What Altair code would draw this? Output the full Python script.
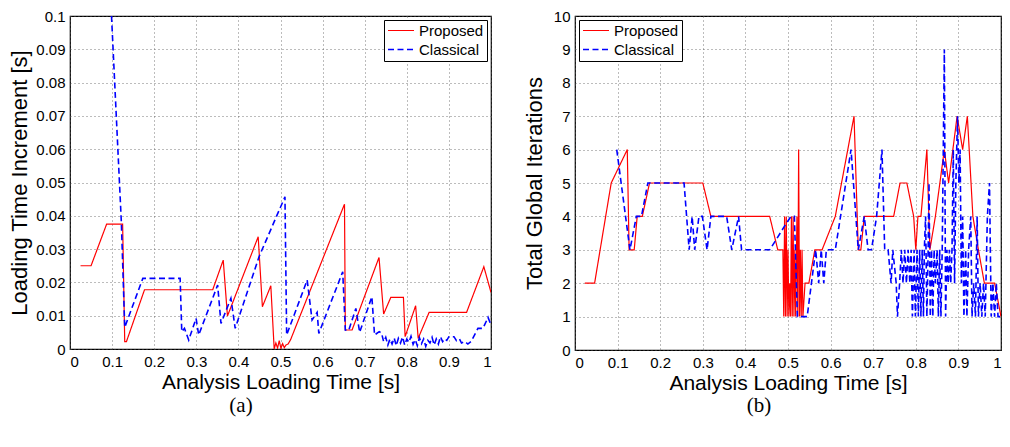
import altair as alt
import pandas as pd

series = ["Proposed", "Classical"]
captions = ["(a)", "(b)"]
x_ticks = [0, 0.1, 0.2, 0.3, 0.4, 0.5, 0.6, 0.7, 0.8, 0.9, 1.0]
a_y_ticks = [0, 0.01, 0.02, 0.03, 0.04, 0.05, 0.06, 0.07, 0.08, 0.09, 0.1]
b_y_ticks = [0, 1, 2, 3, 4, 5, 6, 7, 8, 9, 10]

# ---- panel (a): loading time increment ----
a_prop_x = [0.025, 0.05, 0.087, 0.125, 0.13, 0.134, 0.177, 0.339, 0.364, 0.374, 0.447, 0.457,
            0.477, 0.485, 0.489, 0.493, 0.497, 0.501, 0.505, 0.509, 0.513, 0.518, 0.524, 0.652,
            0.654, 0.670, 0.734, 0.745, 0.762, 0.792, 0.796, 0.821, 0.827, 0.853, 0.942, 0.983, 1.0]
a_prop_y = [0.025, 0.025, 0.0375, 0.0375, 0.0022, 0.0022, 0.0178, 0.0178, 0.0267, 0.0099, 0.0337, 0.0127,
            0.019, 0.0, 0.0018, 0.0003, 0.0025, 0.0002, 0.0016, 0.0004, 0.0012, 0.0015, 0.0028, 0.0435,
            0.0057, 0.0057, 0.0275, 0.0105, 0.0155, 0.0155, 0.0037, 0.013, 0.0032, 0.011, 0.011, 0.0247, 0.017]

a_clas_x = [0.0986, 0.122, 0.13, 0.173, 0.2616, 0.2655, 0.2719, 0.282, 0.2995, 0.3057, 0.3507, 0.3586,
            0.3822, 0.3924, 0.449, 0.5106, 0.5146, 0.5634, 0.575, 0.587, 0.591, 0.6478, 0.654, 0.662,
            0.679, 0.688, 0.717, 0.7234, 0.7345,
            0.740, 0.745, 0.750, 0.755, 0.760, 0.765, 0.770, 0.775, 0.780, 0.785, 0.790, 0.795,
            0.800, 0.805, 0.810, 0.815, 0.820, 0.825, 0.830, 0.835, 0.840, 0.845, 0.850, 0.855,
            0.860, 0.865, 0.870, 0.875, 0.880, 0.885, 0.890, 0.895,
            0.900, 0.912, 0.918, 0.925, 0.930, 0.938, 0.945, 0.953, 0.969, 0.981, 0.993, 1.0]
a_clas_y = [0.1, 0.038, 0.0065, 0.0212, 0.0212, 0.0052, 0.0062, 0.0027, 0.0092, 0.0042, 0.0192, 0.0077,
            0.0152, 0.0062, 0.0277, 0.0457, 0.0042, 0.0207, 0.0087, 0.011, 0.0047, 0.0232, 0.0057, 0.0056,
            0.0122, 0.005, 0.0157, 0.0042, 0.0052,
            0.0048, 0.0022, 0.0035, 0.0012, 0.0030, 0.0015, 0.0033, 0.0010, 0.0032, 0.0018, 0.0036, 0.0012,
            0.0030, 0.0020, 0.0038, 0.0014, 0.0028, 0.0010, 0.0034, 0.0016, 0.0030, 0.0008, 0.0026, 0.0018,
            0.0035, 0.0012, 0.0030, 0.0015, 0.0037, 0.0022, 0.0031, 0.0026,
            0.0037, 0.0037, 0.0025, 0.0030, 0.0018, 0.0022, 0.0015, 0.0023, 0.0062, 0.0062, 0.0095, 0.0072]

# ---- panel (b): total global iterations ----
b_prop_x = [0.023, 0.046, 0.085, 0.1227, 0.127, 0.139, 0.146, 0.158, 0.175, 0.300, 0.319, 0.457, 0.476,
            0.488, 0.490, 0.492, 0.494, 0.496, 0.498, 0.500, 0.502, 0.504, 0.506, 0.508, 0.510, 0.512,
            0.514, 0.516, 0.518, 0.521, 0.523, 0.525, 0.527, 0.529, 0.531, 0.533, 0.535,
            0.540, 0.549, 0.563, 0.580, 0.611, 0.655, 0.665, 0.671, 0.679, 0.748, 0.763, 0.779, 0.795,
            0.800, 0.805, 0.812, 0.826, 0.833, 0.846, 0.867, 0.877, 0.897, 0.910, 0.921, 0.934, 0.947,
            0.961, 0.985, 1.0]
b_prop_y = [2, 2, 5, 6, 3, 3, 4, 4, 5, 5, 4, 4, 3,
            3, 1, 4, 1, 4, 1, 3, 1, 2, 1, 4, 1, 4,
            1, 3, 1, 4, 1, 6, 1, 3, 1, 3, 1,
            2, 2, 3, 3, 4, 7, 3, 3, 4, 4, 5, 5, 4,
            3, 4, 4, 6, 3, 4, 6, 5, 7, 6, 7, 4, 3,
            2, 2, 1]

b_clas_x = [0.098, 0.129, 0.144, 0.156, 0.171, 0.256, 0.268, 0.275, 0.281, 0.291, 0.299, 0.310, 0.319,
            0.356, 0.368, 0.384, 0.391, 0.457, 0.472, 0.4915, 0.507, 0.515, 0.522, 0.545, 0.565, 0.572,
            0.578, 0.584, 0.590, 0.611, 0.648, 0.665, 0.679, 0.688, 0.696, 0.708, 0.7206, 0.727, 0.735,
            0.742, 0.746, 0.754, 0.757,
            0.762, 0.766, 0.770, 0.774, 0.778, 0.782, 0.786, 0.789, 0.792, 0.796, 0.799, 0.803, 0.806,
            0.809, 0.812, 0.815, 0.818, 0.820, 0.823, 0.826, 0.829, 0.831, 0.834, 0.837, 0.840, 0.843,
            0.846, 0.850, 0.853, 0.856, 0.859, 0.862, 0.867, 0.870, 0.873, 0.876, 0.879, 0.882, 0.885,
            0.888, 0.891, 0.894, 0.898, 0.901, 0.904, 0.907, 0.910, 0.913, 0.917, 0.920, 0.924, 0.929,
            0.932, 0.936, 0.940, 0.944, 0.947, 0.951, 0.955, 0.959, 0.963, 0.968, 0.973, 0.977, 0.981,
            0.985, 0.989, 0.993, 1.0]
b_clas_y = [6, 3, 4, 4, 5, 5, 3, 4, 3, 4, 4, 3, 4,
            4, 3, 4, 3, 3, 3.3, 3.7, 4, 4, 1, 1, 3, 2,
            3, 2, 3, 3, 6, 3, 4, 3, 3, 4, 6, 3, 3,
            2, 3, 2, 1,
            2, 3, 2, 3, 2, 3, 2, 3, 1, 3, 1, 3, 1,
            3, 1, 3, 1, 3, 4, 1, 3, 5, 1, 3, 1, 3,
            2, 3, 1, 3, 1, 3, 9, 1, 3, 2, 3, 2, 3,
            6, 2, 5, 7, 5, 6, 2, 4, 1, 3, 1, 3, 4,
            1, 2, 1, 4, 1, 2, 1, 2, 1, 4, 5, 1, 2,
            1, 2, 1, 1]

FONT = "Liberation Sans"


def make_df(px, py, cx, cy):
    d1 = pd.DataFrame({"x": px, "y": py, "s": series[0], "o": range(len(px))})
    d2 = pd.DataFrame({"x": cx, "y": cy, "s": series[1], "o": range(len(cx))})
    return pd.concat([d1, d2], ignore_index=True)


def panel(df, ydom, yticks, yfmt, ytitle, ytpad, caption, legend_orient, w, h, cap_x, cap_y):
    leg = alt.Legend(orient=legend_orient, offset=4, title=None, strokeColor="black",
                     fillColor="white", padding=3, labelFontSize=15, labelFont=FONT,
                     labelColor="black", symbolType="M-1,0L3,0", symbolSize=169,
                     symbolStrokeWidth=1.5, labelOffset=17, rowPadding=3, cornerRadius=0)
    lines = alt.Chart(df).mark_line(clip=True).encode(
        x=alt.X("x:Q", scale=alt.Scale(domain=[0, 1], nice=False),
                axis=alt.Axis(values=x_ticks, format="~g", title="Analysis Loading Time [s]")),
        y=alt.Y("y:Q", scale=alt.Scale(domain=ydom, nice=False),
                axis=alt.Axis(values=yticks, format=yfmt, title=ytitle, titlePadding=ytpad)),
        color=alt.Color("s:N", scale=alt.Scale(domain=series, range=["#ff0000", "#0000ff"]), legend=leg),
        strokeDash=alt.StrokeDash("s:N", scale=alt.Scale(domain=series, range=[[1, 0], [6, 3.5]]), legend=leg),
        strokeWidth=alt.StrokeWidth("s:N", scale=alt.Scale(domain=series, range=[1.2, 1.6]), legend=None),
        order="o:Q",
    )
    cap = alt.Chart(pd.DataFrame({"t": [caption]})).mark_text(
        font="Liberation Serif", fontSize=21, color="black", align="center", baseline="middle"
    ).encode(text="t:N", x=alt.value(cap_x), y=alt.value(cap_y))
    return alt.layer(lines, cap).properties(width=w, height=h)


pa = panel(make_df(a_prop_x, a_prop_y, a_clas_x, a_clas_y), [0, 0.1], a_y_ticks, "~g",
           "Loading Time Increment [s]", 4, captions[0], "top-right", 421, 333, 171, 390)
pb = panel(make_df(b_prop_x, b_prop_y, b_clas_x, b_clas_y), [0, 10], b_y_ticks, "d",
           "Total Global Iterations", 7, captions[1], "top-left", 426, 334, 184, 390)

chart = alt.hconcat(pa, pb, spacing=30).resolve_scale(
    color="independent", strokeDash="independent", strokeWidth="independent"
).properties(
    padding={"left": 0, "top": 0, "right": 0, "bottom": 0}
).configure_view(stroke="black", strokeWidth=1.2).configure_axis(
    domain=False, ticks=False, grid=True, gridDash=[1, 3], gridColor="#555555", gridWidth=0.8,
    labelFont=FONT, labelFontSize=15, labelColor="black",
    titleFont=FONT, titleFontSize=22, titleFontWeight="normal", titleColor="black",
).configure_axisX(labelPadding=5, titlePadding=2, titleFontSize=21).configure_axisY(labelPadding=5)

chart.save("out.html", embed_options={"renderer": "svg", "actions": False})
